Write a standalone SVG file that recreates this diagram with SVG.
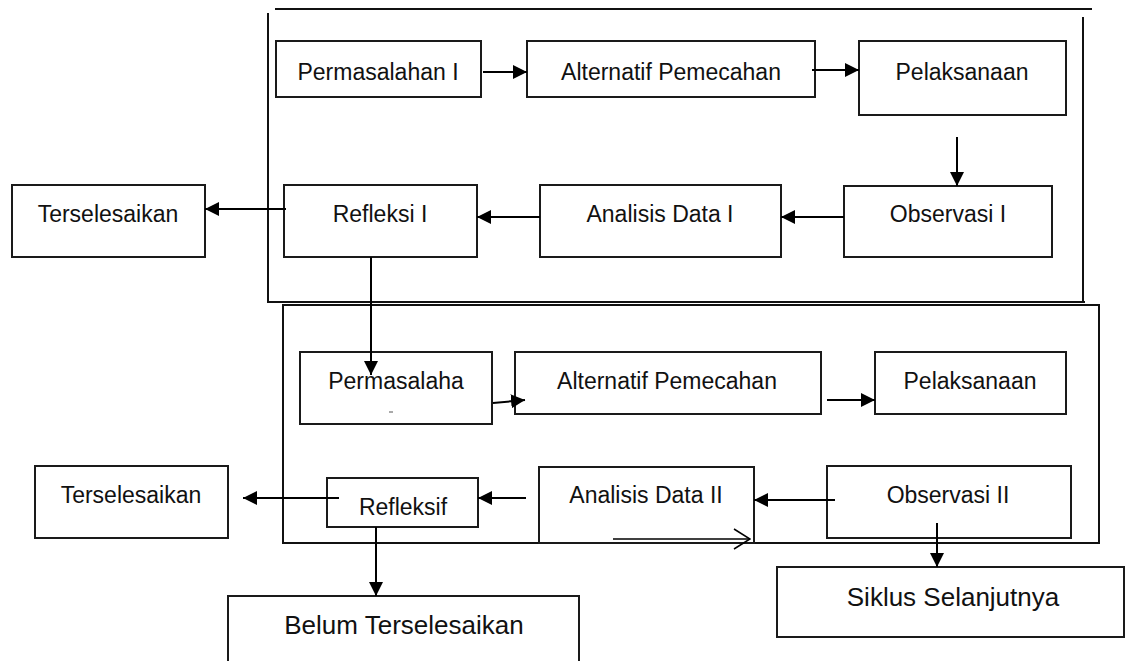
<svg xmlns="http://www.w3.org/2000/svg" width="1128" height="661" viewBox="0 0 1128 661">
<style>
.box{fill:#fff;stroke:#1a1a1a;stroke-width:2}
.frame{fill:none;stroke:#111;stroke-width:2}
.t{font-family:"Liberation Sans",Arial,sans-serif;font-size:23px;fill:#111;text-anchor:middle}
.big{font-size:26px}
.c{fill:none;stroke:#000;stroke-width:2}
</style>
<defs>
<marker id="ah" viewBox="0 0 12 12" refX="12" refY="6" markerWidth="14" markerHeight="14" markerUnits="userSpaceOnUse" orient="auto">
<path d="M0,0 L12,6 L0,12 z" fill="#000"/>
</marker>
<marker id="open" viewBox="0 0 18 22" refX="17" refY="11" markerWidth="18" markerHeight="22" markerUnits="userSpaceOnUse" orient="auto">
<path d="M1,1 L17,11 L1,21" fill="none" stroke="#000" stroke-width="1.5"/>
</marker>
</defs>
<rect width="1128" height="661" fill="#fff"/>
<g id="frames">
<line class="frame" x1="275" y1="9" x2="1092" y2="9"/>
<polyline class="frame" points="268,13 268,302 1085,302"/>
<line class="frame" x1="1083" y1="17" x2="1083" y2="302"/>
<rect class="frame" x="283" y="305" width="816" height="238"/>
</g>
<g id="n-permasalahan1"><rect class="box" x="276" y="41" width="205" height="56"/><text class="t" x="378" y="80">Permasalahan I</text></g>
<g id="n-alternatif1"><rect class="box" x="527" y="41" width="288" height="56"/><text class="t" x="671" y="80">Alternatif Pemecahan</text></g>
<g id="n-pelaksanaan1"><rect class="box" x="859" y="41" width="207" height="74"/><text class="t" x="962" y="80">Pelaksanaan</text></g>
<g id="n-terselesaikan1"><rect class="box" x="12" y="185" width="193" height="72"/><text class="t" x="108" y="222">Terselesaikan</text></g>
<g id="n-refleksi1"><rect class="box" x="284" y="185" width="193" height="72"/><text class="t" x="380" y="222">Refleksi I</text></g>
<g id="n-analisis1"><rect class="box" x="540" y="185" width="241" height="72"/><text class="t" x="660" y="222">Analisis Data I</text></g>
<g id="n-observasi1"><rect class="box" x="844" y="186" width="208" height="71"/><text class="t" x="948" y="222">Observasi I</text></g>
<g id="n-permasalahan2"><rect class="box" x="300" y="352" width="192" height="72"/><text class="t" x="396" y="389">Permasalaha</text><line x1="389" y1="412" x2="393" y2="412" stroke="#555" stroke-width="1"/></g>
<g id="n-alternatif2"><rect class="box" x="515" y="352" width="306" height="62"/><text class="t" x="667" y="389">Alternatif Pemecahan</text></g>
<g id="n-pelaksanaan2"><rect class="box" x="875" y="352" width="191" height="62"/><text class="t" x="970" y="389">Pelaksanaan</text></g>
<g id="n-terselesaikan2"><rect class="box" x="35" y="466" width="193" height="72"/><text class="t" x="131" y="503">Terselesaikan</text></g>
<g id="n-refleksif"><rect class="box" x="327" y="478" width="151" height="49"/><text class="t" x="403" y="515">Refleksif</text></g>
<g id="n-analisis2"><rect class="box" x="539" y="467" width="215" height="76"/><text class="t" x="646" y="503">Analisis Data II</text></g>
<g id="n-observasi2"><rect class="box" x="827" y="466" width="244" height="72"/><text class="t" x="948" y="503">Observasi II</text></g>
<g id="n-siklus"><rect class="box" x="777" y="567" width="347" height="70"/><text class="t big" x="953" y="606">Siklus Selanjutnya</text></g>
<g id="n-belum"><path class="box" d="M228,662 L228,596 L579,596 L579,662"/><text class="t big" x="404" y="634">Belum Terselesaikan</text></g>
<g id="connectors">
<line class="c" x1="483" y1="72" x2="527" y2="72" marker-end="url(#ah)"/>
<line class="c" x1="812" y1="70" x2="859" y2="70" marker-end="url(#ah)"/>
<line class="c" x1="957" y1="137" x2="957" y2="186" marker-end="url(#ah)"/>
<line class="c" x1="844" y1="217" x2="781" y2="217" marker-end="url(#ah)"/>
<line class="c" x1="540" y1="217" x2="477" y2="217" marker-end="url(#ah)"/>
<line class="c" x1="286" y1="209" x2="205" y2="209" marker-end="url(#ah)"/>
<line class="c" x1="371" y1="257" x2="371" y2="375" marker-end="url(#ah)"/>
<line class="c" x1="493" y1="403" x2="525" y2="400" marker-end="url(#ah)"/>
<line class="c" x1="827" y1="400" x2="875" y2="400" marker-end="url(#ah)"/>
<line class="c" x1="835" y1="500" x2="754" y2="500" marker-end="url(#ah)"/>
<line class="c" x1="526" y1="498" x2="478" y2="498" marker-end="url(#ah)"/>
<line class="c" x1="339" y1="498" x2="243" y2="498" marker-end="url(#ah)"/>
<line class="c" x1="376" y1="527" x2="376" y2="596" marker-end="url(#ah)"/>
<line class="c" x1="937" y1="523" x2="937" y2="567" marker-end="url(#ah)"/>
<line x1="613" y1="539" x2="750" y2="539" stroke="#000" stroke-width="1.5" marker-end="url(#open)"/>
</g>
</svg>
